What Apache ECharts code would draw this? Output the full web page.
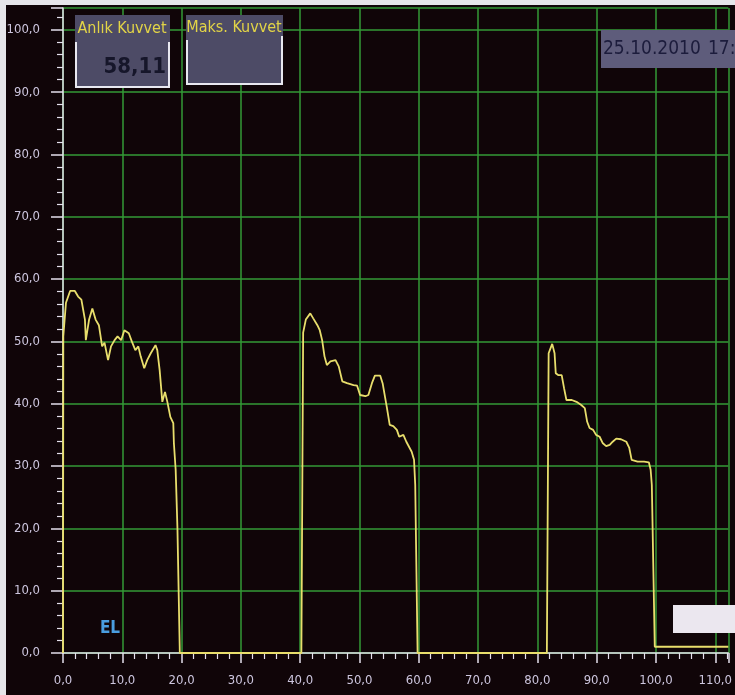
<!DOCTYPE html>
<html>
<head>
<meta charset="utf-8">
<script src="https://cdn.jsdelivr.net/npm/echarts@6/dist/echarts.min.js"></script>
<style>
  html, body { margin: 0; padding: 0; background: #110609; }
  #chart { width: 735px; height: 695px; }
</style>
</head>
<body>
<div id="chart"></div>
<script>
// 时间 (s) 与 力值, 三次加载循环
const cycle1Time = [0, 0.05, 0.5, 1.2, 2.0, 2.55, 3.1, 3.7, 3.85, 4.4, 4.95, 5.5, 6.05, 6.6, 7.0, 7.6, 8.1, 8.7, 9.2, 9.8, 10.35, 11.1, 11.6, 12.2, 12.7, 13.1, 13.7, 14.2, 14.8, 15.6, 15.9, 16.3, 16.75, 17.2, 17.6, 18.1, 18.6, 18.7, 19.0, 19.3, 19.7];
const cycle1Force = [0, 50.8, 56.2, 58.1, 58.1, 57.2, 56.7, 53.5, 50.2, 53.5, 55.3, 53.5, 52.6, 49.2, 49.8, 47.0, 49.2, 50.2, 50.8, 50.2, 51.8, 51.3, 50.0, 48.6, 49.2, 47.6, 45.7, 47.0, 48.1, 49.4, 48.6, 45.4, 40.3, 41.9, 40.3, 37.9, 36.9, 33.7, 29.4, 20.0, 0];

const cycle2Time = [40.2, 40.5, 40.95, 41.7, 42.2, 42.9, 43.3, 43.7, 44.1, 44.5, 45.1, 45.96, 46.5, 47.1, 47.9, 49.0, 49.6, 50.1, 51.0, 51.5, 52.1, 52.6, 53.5, 53.9, 54.6, 55.1, 55.7, 56.3, 56.7, 57.4, 57.9, 58.8, 59.2, 59.4, 59.8];
const cycle2Force = [0, 51.4, 53.5, 54.5, 53.7, 52.6, 51.8, 50.2, 47.6, 46.2, 46.8, 47.0, 46.0, 43.6, 43.3, 43.0, 42.9, 41.4, 41.2, 41.4, 43.3, 44.5, 44.5, 43.3, 39.5, 36.6, 36.4, 35.8, 34.7, 35.0, 33.9, 32.3, 31.0, 27.0, 0];

const cycle3Time = [81.6, 81.9, 82.1, 82.5, 82.9, 83.1, 83.5, 84.1, 84.5, 84.9, 85.8, 86.6, 87.4, 88.0, 88.4, 88.8, 89.4, 89.9, 90.5, 91.0, 91.6, 92.2, 92.7, 93.3, 94.1, 95.0, 95.5, 95.9, 96.9, 98.0, 98.8, 99.1, 99.3, 99.8, 112.2];
const cycle3Force = [0, 48.1, 48.6, 49.6, 48.1, 44.9, 44.6, 44.6, 42.5, 40.6, 40.6, 40.3, 39.8, 39.3, 37.1, 36.1, 35.8, 35.0, 34.7, 33.7, 33.2, 33.4, 33.9, 34.4, 34.3, 33.9, 32.9, 31.0, 30.7, 30.7, 30.6, 29.4, 27.0, 1.0, 1.0];

const xTickStep = 10;
const yTickStep = 10;

const FONT = "'DejaVu Sans Condensed', 'Liberation Sans Narrow', 'Liberation Sans', sans-serif";

const COLORS = {
  bg: '#100508',
  grid: '#339a36',
  line: '#e8de6c',
  axis: '#e4e0ec',
  label: '#cdc6de',
  box: '#4d4b66',
  title: '#e2d447'
};

function fmt(v) {
  return v.toFixed(1).replace('.', ',');
}

function pairs(ts, fs) {
  return ts.map((t, i) => [t, fs[i]]);
}

const lineData = pairs(cycle1Time, cycle1Force)
  .concat(pairs(cycle2Time, cycle2Force))
  .concat(pairs(cycle3Time, cycle3Force));

const chart = echarts.init(document.getElementById('chart'));

chart.setOption({
  backgroundColor: COLORS.bg,
  animation: false,
  grid: { left: 63, right: 0, top: 8, bottom: 42 },
  xAxis: {
    type: 'value',
    min: 0,
    max: 112.2,
    interval: xTickStep,
    offset: 5,
    axisLine: { show: true, lineStyle: { color: COLORS.axis, width: 1.5 } },
    axisTick: { show: true, length: 10, lineStyle: { color: COLORS.axis, width: 1.5 } },
    minorTick: { show: true, splitNumber: 5, length: 6, lineStyle: { color: COLORS.axis, width: 1.2 } },
    axisLabel: {
      color: COLORS.label, fontFamily: FONT, fontSize: 13, margin: 16,
      showMaxLabel: false, formatter: fmt
    },
    splitLine: { show: true, lineStyle: { color: COLORS.grid, width: 1.5 } }
  },
  yAxis: {
    type: 'value',
    min: 0,
    max: 103.5,
    interval: yTickStep,
    offset: 6,
    axisLine: { show: true, lineStyle: { color: COLORS.axis, width: 1.5 } },
    axisTick: { show: true, length: 12, lineStyle: { color: COLORS.axis, width: 1.5 } },
    minorTick: { show: true, splitNumber: 5, length: 6, lineStyle: { color: COLORS.axis, width: 1.2 } },
    axisLabel: {
      color: COLORS.label, fontFamily: FONT, fontSize: 13, margin: 17,
      showMaxLabel: false, formatter: fmt
    },
    splitLine: { show: true, lineStyle: { color: COLORS.grid, width: 1.5 } }
  },
  series: [{
    type: 'line',
    data: lineData,
    showSymbol: false,
    smooth: false,
    lineStyle: { color: COLORS.line, width: 1.8 },
    z: 5
  }],
  graphic: [
    // 照片边缘白边
    { type: 'rect', shape: { x: 0, y: 0, width: 735, height: 5 }, style: { fill: '#e6e6ea' }, z: 100 },
    { type: 'rect', shape: { x: 0, y: 0, width: 6, height: 695 }, style: { fill: '#e6e6ea' }, z: 100 },

    // 瞬时力
    { type: 'rect', shape: { x: 75, y: 15, width: 95, height: 73 }, style: { fill: COLORS.box }, z: 50 },
    { type: 'polyline', shape: { points: [[76, 42], [76, 87], [169, 87], [169, 42]] }, style: { stroke: '#e8e8f0', lineWidth: 2, fill: null }, z: 51 },
    { type: 'text', x: 122, y: 29, style: { text: 'Anlık Kuvvet', fill: COLORS.title, font: '16px ' + FONT, align: 'center', verticalAlign: 'middle' }, z: 52 },
    { type: 'text', x: 166, y: 67, style: { text: '58,11', fill: '#16162a', font: 'bold 22px ' + FONT, align: 'right', verticalAlign: 'middle' }, z: 52 },

    // 最大力
    { type: 'rect', shape: { x: 186, y: 15, width: 97, height: 70 }, style: { fill: COLORS.box }, z: 50 },
    { type: 'polyline', shape: { points: [[187, 40], [187, 84], [282, 84], [282, 36]] }, style: { stroke: '#e8e8f0', lineWidth: 2, fill: null }, z: 51 },
    { type: 'text', x: 234, y: 28, style: { text: 'Maks. Kuvvet', fill: COLORS.title, font: '16px ' + FONT, align: 'center', verticalAlign: 'middle' }, z: 52 },

    // 日期
    { type: 'rect', shape: { x: 601, y: 30, width: 134, height: 38 }, style: { fill: '#5e5c7b' }, z: 50 },
    { type: 'text', x: 603, y: 49, style: { text: '25.10.2010', fill: '#1c1c3c', font: '19px ' + FONT, align: 'left', verticalAlign: 'middle' }, z: 52 },
    { type: 'text', x: 708, y: 49, style: { text: '17:1', fill: '#1c1c3c', font: '19px ' + FONT, align: 'left', verticalAlign: 'middle' }, z: 52 },

    // EL 标记
    { type: 'text', x: 110, y: 629, style: { text: 'EL', fill: '#4a9ee0', font: 'bold 17px ' + FONT, align: 'center', verticalAlign: 'middle' }, z: 52 },

    // 右下角白框
    { type: 'rect', shape: { x: 673, y: 605, width: 62, height: 28 }, style: { fill: '#ebe7ef' }, z: 50 }
  ]
});
</script>
</body>
</html>
